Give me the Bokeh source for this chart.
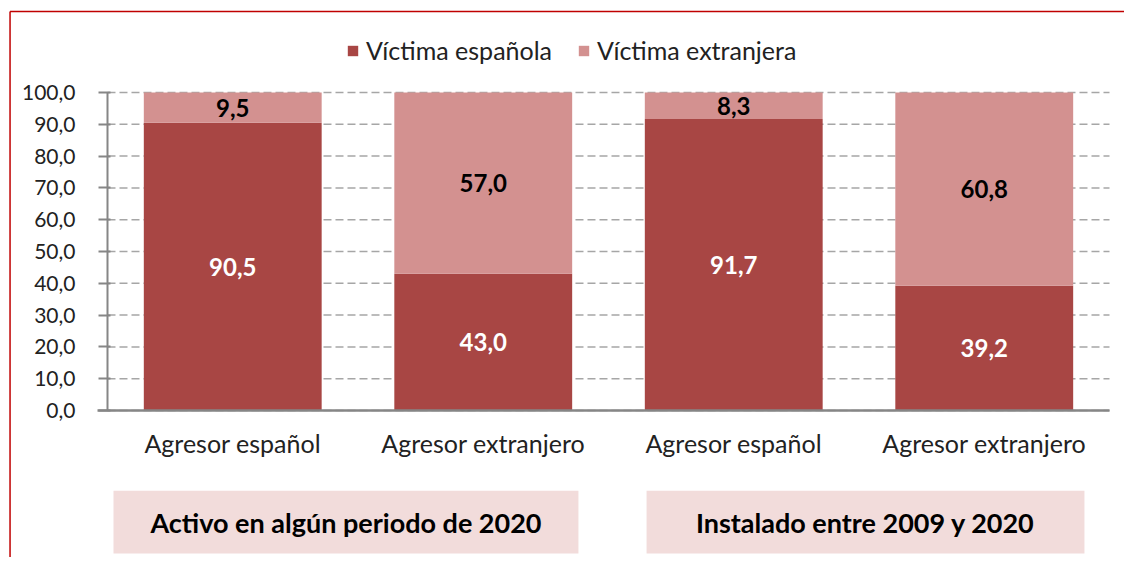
from bokeh.plotting import figure
from bokeh.models import (ColumnDataSource, LinearAxis, FixedTicker, Legend, LegendItem)
from bokeh.core.properties import value
from bokeh.embed import file_html
from bokeh.resources import INLINE

# ---------------- data ----------------
categories = ["Agresor español", "Agresor extranjero", "Agresor español", "Agresor extranjero"]
victima_espanola = [90.5, 43.0, 91.7, 39.2]
victima_extranjera = [9.5, 57.0, 8.3, 60.8]
series_names = ["Víctima española", "Víctima extranjera"]
group_labels = ["Activo en algún periodo de 2020", "Instalado entre 2009 y 2020"]
y_ticks = [0, 10, 20, 30, 40, 50, 60, 70, 80, 90, 100]
y_tick_labels = ["0,0", "10,0", "20,0", "30,0", "40,0", "50,0", "60,0", "70,0", "80,0", "90,0", "100,0"]

# ---------------- style ----------------
DARK = "#a84644"
LIGHT = "#d39190"
BOX = "#f2dcdb"
AXIS = "#868686"
GRID = "#a6a6a6"
FONT = "Lato"

W, H = 1124, 557
X0, X1 = -0.4271, 4.0599
Y0, Y1 = -46.23, 128.93

def fmt(v):
    return f"{v:.1f}".replace(".", ",")

xs = [i + 0.5 for i in range(len(categories))]

p = figure(width=W, height=H, x_range=(X0, X1), y_range=(Y0, Y1),
           x_axis_type=None, y_axis_type=None, output_backend="svg",
           toolbar_location=None, min_border=0)
p.outline_line_color = None
p.xgrid.visible = False
p.ygrid.visible = False
p.background_fill_color = "white"
p.border_fill_color = "white"

# dashed gridlines across the plot area
p.segment(x0=[0] * len(y_ticks), x1=[4] * len(y_ticks), y0=y_ticks, y1=y_ticks,
          line_color=GRID, line_width=1.5, line_dash="8 4")

src = ColumnDataSource(dict(x=xs, esp=victima_espanola, ext=victima_extranjera))
renderers = p.vbar_stack(["esp", "ext"], x="x", width=0.71, source=src,
                         color=[DARK, LIGHT], line_color=None)

# data labels
lab_x, lab_y, lab_t, lab_c = [], [], [], []
for x, a, b in zip(xs, victima_espanola, victima_extranjera):
    lab_x += [x, x]
    lab_y += [a / 2, a + b / 2]
    lab_t += [fmt(a), fmt(b)]
    lab_c += ["white", "black"]
p.text(x=lab_x, y=lab_y, text=lab_t, text_color=lab_c, text_align="center",
       text_baseline="middle", text_font=value(FONT), text_font_style="bold",
       text_font_size="24px")

# axes
yaxis = LinearAxis(fixed_location=0, bounds=(0, 100), ticker=FixedTicker(ticks=y_ticks),
                   major_label_overrides={float(t): l for t, l in zip(y_ticks, y_tick_labels)})
yaxis.axis_line_color = AXIS
yaxis.axis_line_width = 2
yaxis.major_tick_line_color = AXIS
yaxis.major_tick_line_width = 2
yaxis.major_tick_out = 9
yaxis.major_tick_in = 3
yaxis.minor_tick_line_color = None
yaxis.major_label_standoff = 23
yaxis.major_label_text_font = FONT
yaxis.major_label_text_font_size = "21px"
yaxis.major_label_text_color = "#222222"
p.add_layout(yaxis, "left")

xaxis = LinearAxis(fixed_location=0, bounds=(-0.04, 4), ticker=FixedTicker(ticks=xs),
                   major_label_overrides={float(x): c for x, c in zip(xs, categories)})
xaxis.axis_line_color = AXIS
xaxis.axis_line_width = 2.5
xaxis.major_tick_line_color = None
xaxis.minor_tick_line_color = None
xaxis.major_label_standoff = 12
xaxis.major_label_text_font = FONT
xaxis.major_label_text_font_size = "25px"
xaxis.major_label_text_color = "#222222"
p.add_layout(xaxis, "below")

# group boxes below the categories
box_left = [0.024, 2.152]
box_right = [1.880, 3.900]
box_top, box_bottom = -25.2, -45.0
p.quad(left=box_left, right=box_right, top=[box_top] * 2, bottom=[box_bottom] * 2,
       fill_color=BOX, line_color=None)
p.text(x=[(l + r) / 2 for l, r in zip(box_left, box_right)], y=[(box_top + box_bottom) / 2] * 2,
       text=group_labels, text_align="center", text_baseline="middle",
       text_font=value(FONT), text_font_style="bold", text_font_size="27px",
       text_color="black")

# red frame (top and left)
p.segment(x0=[-0.389, -0.389], y0=[Y0, 125.47], x1=[-0.389, X1], y1=[125.47, 125.47],
          line_color="#c00000", line_width=1.5)

legend = Legend(items=[LegendItem(label=n, renderers=[r]) for n, r in zip(series_names, renderers)],
                orientation="horizontal", location=(346, 492),
                glyph_width=13, glyph_height=13, label_standoff=7, spacing=25,
                padding=0, margin=0, border_line_color=None, background_fill_alpha=0,
                label_text_font=FONT, label_text_font_size="25px", label_height=24,
                label_text_color="#222222")
p.add_layout(legend)

open("out.html", "w").write(file_html(p, INLINE))
